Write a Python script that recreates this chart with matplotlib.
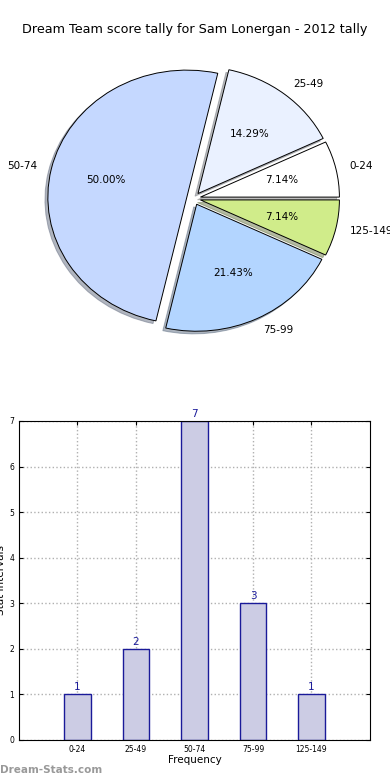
import numpy as np
import matplotlib
matplotlib.use('Agg')
import matplotlib.pyplot as plt

# score intervals and how many rounds fell in each
intervals = ['0-24', '25-49', '50-74', '75-99', '125-149']
counts = [1, 2, 7, 3, 1]
pie_colors = ['#ffffff', '#eaf1ff', '#c5d8ff', '#b3d5ff', '#d0ec8a']

fig = plt.figure(figsize=(3.9, 7.8), dpi=100)

fig.text(0.5, 0.962, 'Dream Team score tally for Sam Lonergan - 2012 tally',
         ha='center', va='center', fontsize=9.2)

# pie (old style, not equal aspect)
ax1 = fig.add_axes([0.051, 0.542, 0.891, 0.407])
wedges, texts, autotexts = ax1.pie(counts, labels=intervals, colors=pie_colors,
                                   explode=[0.05] * len(counts), autopct='%.2f%%',
                                   shadow={'ox': -0.015, 'oy': -0.015, 'shade': 0.5},
                                   startangle=0, pctdistance=0.6,
                                   labeldistance=1.1,
                                   wedgeprops=dict(edgecolor='black', linewidth=0.7),
                                   textprops=dict(fontsize=7.5))
ax1.set_aspect('auto')
ax1.set_xlim(-1.25, 1.25)
ax1.set_ylim(-1.25, 1.25)
ax1.axis('off')

# bar chart
ax2 = fig.add_axes([0.0487, 0.0513, 0.9, 0.409])
x = np.arange(len(intervals))
ax2.bar(x, counts, width=0.45, color='#ccccE4', edgecolor='#1a1a99', linewidth=1.0, zorder=2)
for xi, c in zip(x, counts):
    ax2.text(xi, c + 0.05, str(c), ha='center', va='bottom', fontsize=7.5, color='#1a1a99')
ax2.set_xlim(-1, 5)
ax2.set_ylim(0, 7)
ax2.set_xticks(x)
ax2.set_xticklabels(intervals)
ax2.set_yticks(range(8))
ax2.tick_params(direction='in', top=True, right=True, labelsize=5.5, length=3)
ax2.grid(True, linestyle=':', color='#b0b0b0', linewidth=1.0, zorder=0)
ax2.set_axisbelow(True)
ax2.set_xlabel('Frequency', fontsize=7.5, labelpad=1)
ax2.set_ylabel('Stat intervals', fontsize=7.5, labelpad=2)

fig.text(0.0, 0.013, 'Dream-Stats.com', ha='left', va='center', fontsize=7.5,
         color='#999999', fontweight='bold')

plt.savefig('out.png', dpi=100)
